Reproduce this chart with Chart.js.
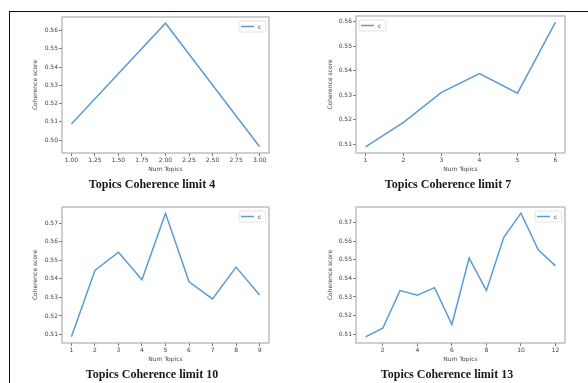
<!DOCTYPE html>
<html>
<head>
<meta charset="utf-8">
<script src="https://cdn.jsdelivr.net/npm/chart.js@4.4.0/dist/chart.umd.min.js"></script>
<style>
  html, body { margin: 0; padding: 0; background: #fff; width: 588px; height: 383px; overflow: hidden; }
  body { position: relative; }
  .frame { position: absolute; left: 9px; top: 11px; width: 700px; height: 500px;
           border-left: 1.5px solid #111; border-top: 1.5px solid #111; }
  .panel { position: absolute; }
  .cap { position: absolute; font-family: "Liberation Serif", "Times New Roman", serif; font-weight: bold;
         font-size: 12px; line-height: 14px; color: #1a1a1a; white-space: nowrap; transform: translateX(-50%); }
</style>
</head>
<body>
<div class="frame"></div>

<script>
// Coherence score per number of topics, one run per topic limit
const numTopics4 = [1, 2, 3];
const coherence4 = [0.5088, 0.5641, 0.4963];
const xTicks4 = [1.00, 1.25, 1.50, 1.75, 2.00, 2.25, 2.50, 2.75, 3.00];
const yTicks4 = [0.50, 0.51, 0.52, 0.53, 0.54, 0.55, 0.56];

const numTopics7 = [1, 2, 3, 4, 5, 6];
const coherence7 = [0.5089, 0.5189, 0.5311, 0.5388, 0.5308, 0.5598];
const xTicks7 = [1, 2, 3, 4, 5, 6];
const yTicks7 = [0.51, 0.52, 0.53, 0.54, 0.55, 0.56];

const numTopics10 = [1, 2, 3, 4, 5, 6, 7, 8, 9];
const coherence10 = [0.5088, 0.5445, 0.5543, 0.5395, 0.5753, 0.5384, 0.5292, 0.5463, 0.5313];
const xTicks10 = [1, 2, 3, 4, 5, 6, 7, 8, 9];
const yTicks10 = [0.51, 0.52, 0.53, 0.54, 0.55, 0.56, 0.57];

const numTopics13 = [1, 2, 3, 4, 5, 6, 7, 8, 9, 10, 11, 12];
const coherence13 = [0.5086, 0.5132, 0.5334, 0.5310, 0.5350, 0.5152, 0.5509, 0.5334, 0.5619, 0.5750, 0.5553, 0.5467];
const xTicks13 = [2, 4, 6, 8, 10, 12];
const yTicks13 = [0.51, 0.52, 0.53, 0.54, 0.55, 0.56, 0.57];

const panelTitles = ["Topics Coherence limit 4", "Topics Coherence limit 7",
                     "Topics Coherence limit 10", "Topics Coherence limit 13"];
const seriesName = "c";
const xAxisTitle = "Num Topics";
const yAxisTitle = "Coherence score";

const LINE = "#5b9bd5";
const TEXT = "#444";
const FONT = { family: "'DejaVu Sans', sans-serif", size: 6 };

// axis limits padded by 5% of the data span on each side
function padded(values) {
  const lo = Math.min(...values), hi = Math.max(...values);
  const m = (hi - lo) * 0.05;
  return [lo - m, hi + m];
}

// frame around the plot area plus an in-axes legend box
const axesBox = {
  id: "axesBox",
  afterDatasetsDraw(chart, args, opts) {
    const { ctx, chartArea: a } = chart;
    ctx.save();
    ctx.strokeStyle = "#a8a8a8";
    ctx.lineWidth = 1.1;
    ctx.strokeRect(a.left, a.top, a.right - a.left, a.bottom - a.top);

    const w = 27, h = 11;
    const x = opts.side === "left" ? a.left + 3 : a.right - 3 - w;
    const y = a.top + 4;
    ctx.beginPath();
    ctx.roundRect(x, y, w, h, 2);
    ctx.fillStyle = "rgba(255,255,255,0.85)";
    ctx.fill();
    ctx.strokeStyle = "#dcdcdc";
    ctx.lineWidth = 0.8;
    ctx.stroke();
    ctx.beginPath();
    ctx.moveTo(x + 2, y + h / 2);
    ctx.lineTo(x + 15, y + h / 2);
    ctx.strokeStyle = LINE;
    ctx.lineWidth = 1.5;
    ctx.stroke();
    ctx.fillStyle = TEXT;
    ctx.font = "6px 'DejaVu Sans', sans-serif";
    ctx.textBaseline = "middle";
    ctx.fillText(opts.label, x + 19, y + h / 2 + 0.5);
    ctx.restore();
  }
};

function makePanel(p) {
  const div = document.createElement("div");
  div.className = "panel";
  div.style.left = p.left + "px";
  div.style.top = p.top + "px";
  div.style.width = p.width + "px";
  div.style.height = p.height + "px";
  const canvas = document.createElement("canvas");
  div.appendChild(canvas);
  document.body.appendChild(div);

  const cap = document.createElement("div");
  cap.className = "cap";
  cap.textContent = p.title;
  cap.style.left = p.capX + "px";
  cap.style.top = (p.capY - 7) + "px";
  document.body.appendChild(cap);

  const [xMin, xMax] = padded(p.x);
  const [yMin, yMax] = padded(p.y);

  new Chart(canvas, {
    type: "line",
    data: {
      datasets: [{
        label: seriesName,
        data: p.x.map((v, i) => ({ x: v, y: p.y[i] })),
        borderColor: LINE,
        borderWidth: 1.5,
        pointRadius: 0,
        tension: 0,
        fill: false
      }]
    },
    options: {
      responsive: true,
      maintainAspectRatio: false,
      animation: false,
      devicePixelRatio: 1,
      layout: { padding: { left: p.padL, right: p.padR, top: p.padT, bottom: p.padB } },
      plugins: {
        legend: { display: false },
        tooltip: { enabled: false },
        axesBox: { side: p.legendSide, label: seriesName }
      },
      scales: {
        x: {
          type: "linear",
          min: xMin, max: xMax,
          afterBuildTicks: s => { s.ticks = p.xTicks.map(v => ({ value: v })); },
          afterFit: s => { s.height = 20; },
          ticks: {
            color: TEXT, font: FONT, padding: 1, maxRotation: 0, autoSkip: false,
            callback: v => p.xFmt(v)
          },
          grid: { drawOnChartArea: false, drawTicks: true, tickLength: 3, tickColor: "#555", tickWidth: 0.8 },
          border: { display: false },
          title: { display: true, text: xAxisTitle, color: TEXT, font: FONT, padding: 0 }
        },
        y: {
          type: "linear",
          min: yMin, max: yMax,
          afterBuildTicks: s => { s.ticks = p.yTicks.map(v => ({ value: v })); },
          afterFit: s => { s.width = p.yW; },
          ticks: {
            color: TEXT, font: FONT, padding: 1, autoSkip: false,
            callback: v => v.toFixed(2)
          },
          grid: { drawOnChartArea: false, drawTicks: true, tickLength: 3, tickColor: "#555", tickWidth: 0.8 },
          border: { display: false },
          title: { display: true, text: yAxisTitle, color: TEXT, font: FONT, padding: 0 }
        }
      }
    },
    plugins: [axesBox]
  });
}

const intFmt = v => String(Math.round(v));

makePanel({ left: 0, top: 0, width: 294, height: 195, padL: 32, yW: 30, padR: 25, padT: 17, padB: 22,
            x: numTopics4, y: coherence4, xTicks: xTicks4, yTicks: yTicks4, xFmt: v => v.toFixed(2),
            legendSide: "right", title: panelTitles[0], capX: 152, capY: 184 });
makePanel({ left: 294, top: 0, width: 294, height: 195, padL: 33, yW: 29, padR: 23, padT: 16, padB: 22,
            x: numTopics7, y: coherence7, xTicks: xTicks7, yTicks: yTicks7, xFmt: intFmt,
            legendSide: "left", title: panelTitles[1], capX: 448, capY: 184 });
makePanel({ left: 0, top: 195, width: 294, height: 188, padL: 32, yW: 30, padR: 25, padT: 12, padB: 20,
            x: numTopics10, y: coherence10, xTicks: xTicks10, yTicks: yTicks10, xFmt: intFmt,
            legendSide: "right", title: panelTitles[2], capX: 152, capY: 374 });
makePanel({ left: 294, top: 195, width: 294, height: 188, padL: 33, yW: 29, padR: 23, padT: 12, padB: 20,
            x: numTopics13, y: coherence13, xTicks: xTicks13, yTicks: yTicks13, xFmt: intFmt,
            legendSide: "right", title: panelTitles[3], capX: 447, capY: 374 });
</script>
</body>
</html>
